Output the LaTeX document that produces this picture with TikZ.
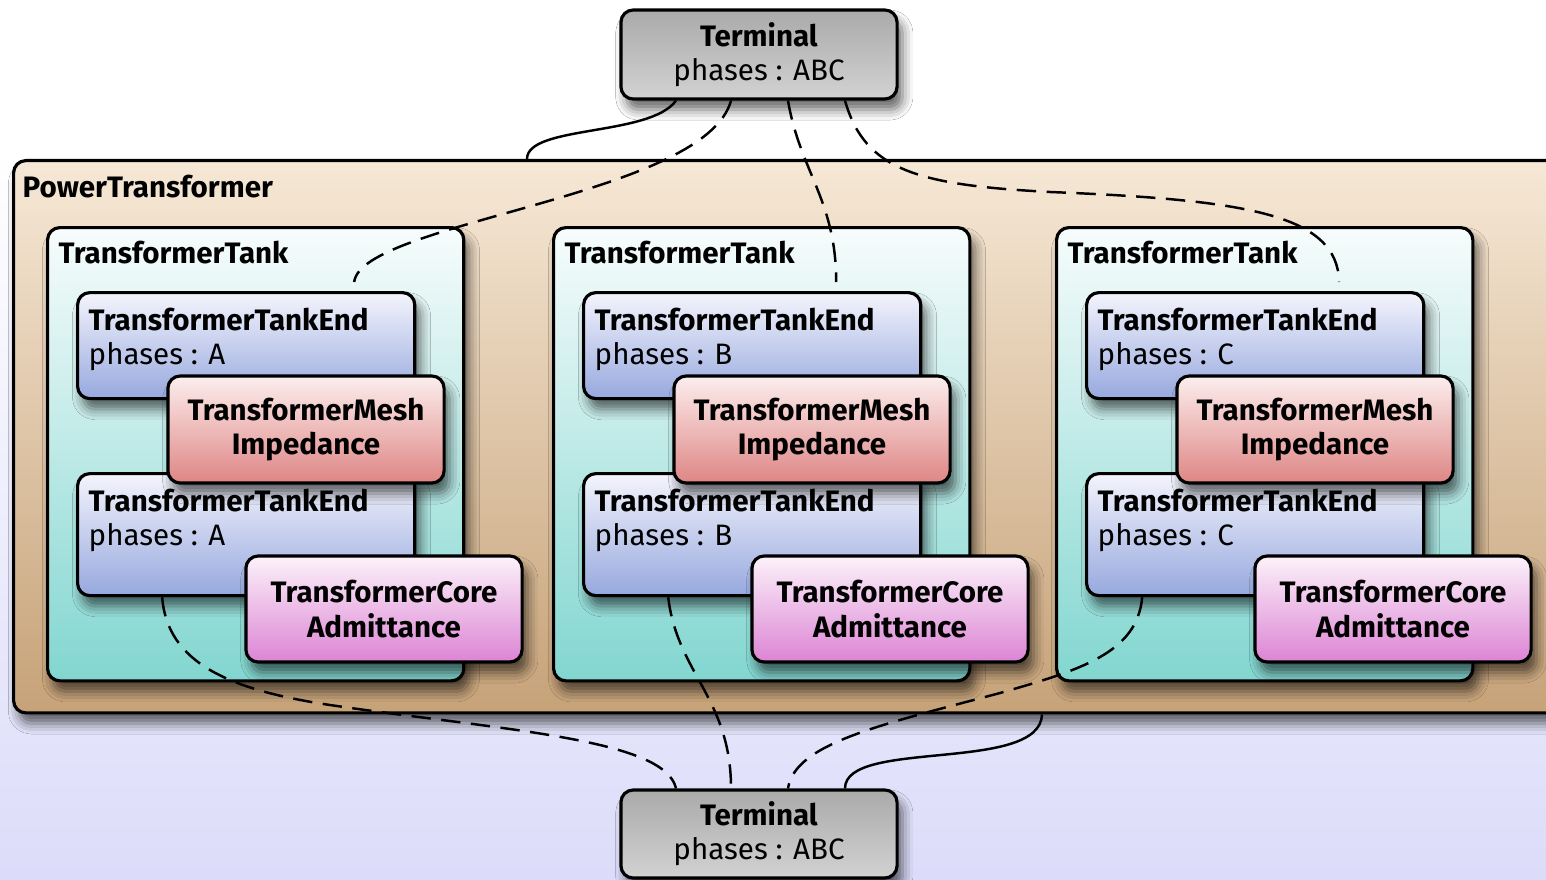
\documentclass[tikz,border=0pt]{standalone}
\usepackage{fontspec}
\setmainfont{Fira Sans}
\usetikzlibrary{calc,shadows.blur}

\definecolor{termtop}{RGB}{170,170,170}
\definecolor{termbot}{RGB}{210,210,210}
\definecolor{pttop}{RGB}{246,232,214}
\definecolor{ptbot}{RGB}{198,162,120}
\definecolor{tanktop}{RGB}{247,252,252}
\definecolor{tankbot}{RGB}{130,214,208}
\definecolor{endtop}{RGB}{244,244,252}
\definecolor{endbot}{RGB}{150,168,222}
\definecolor{meshtop}{RGB}{252,238,238}
\definecolor{meshbot}{RGB}{222,134,132}
\definecolor{coretop}{RGB}{252,242,250}
\definecolor{corebot}{RGB}{220,132,212}
\definecolor{lavbg}{RGB}{220,220,250}

\begin{document}
\begin{tikzpicture}[x=0.01cm,y=-0.01cm,
	font=\fontsize{8.4}{9.7}\selectfont,
	box/.style={draw, line width=0.9pt, rounded corners=3.5pt,
		blur shadow={shadow xshift=1.5pt, shadow yshift=-3pt, shadow blur radius=3pt, shadow opacity=60}},
	terminal/.style={box, top color=termtop, bottom color=termbot, minimum width=2.76cm, minimum height=0.89cm, align=center},
	tankend/.style={box, top color=endtop, bottom color=endbot, minimum width=3.37cm, anchor=north west},
	mesh/.style={box, top color=meshtop, bottom color=meshbot, minimum width=2.76cm, minimum height=1.07cm, align=center,
		font=\fontsize{8.4}{9.7}\selectfont\bfseries},
	core/.style={mesh, top color=coretop, bottom color=corebot, minimum height=1.06cm},
	title/.style={anchor=base west, inner sep=0pt, font=\fontsize{8.4}{9.7}\selectfont\bfseries},
	endtext/.style={anchor=north west, inner sep=0pt, align=left},
	link/.style={line width=0.7pt},
	ref/.style={link, dash pattern=on 5.5pt off 3pt}]
	
	\useasboundingbox (0,0) rectangle (1546,879);
	\fill[white] (0,0) rectangle (1546,879);%Hintergrund
	\fill[top color=white, bottom color=lavbg] (0,150) rectangle (1546,879);
	
	%PowerTransformer
	\node[box, top color=pttop, bottom color=ptbot, minimum width=15.6cm, minimum height=5.52cm, anchor=north west] (pt) at (12,159) {};
	\node[title] at ($(pt.north west)+(10,38)$) {PowerTransformer};
	
	\foreach \dx/\ph [count=\i] in {0/A,506/B,1009/C}{
		\node[box, top color=tanktop, bottom color=tankbot, minimum width=4.16cm, minimum height=4.53cm, anchor=north west] (tank\i) at (46+\dx,226) {};
		\node[title] at ($(tank\i.north west)+(12,37)$) {TransformerTank};
		
		\node[tankend, minimum height=1.06cm] (endA\i) at (76+\dx,291) {};
		\node[endtext] at ($(endA\i.north west)+(12,16)$) {\textbf{TransformerTankEnd}\\phases : \ph};
		\node[tankend, minimum height=1.22cm] (endB\i) at (76+\dx,472) {};
		\node[endtext] at ($(endB\i.north west)+(12,16)$) {\textbf{TransformerTankEnd}\\phases : \ph};
		
		\node[mesh] (mesh\i) at (306+\dx,429.5) {TransformerMesh\\Impedance};
		\node[core] (core\i) at (384+\dx,609) {TransformerCore\\Admittance};
	}
	
	%Terminals
	\node[terminal] (termTop) at (759,54.5) {\textbf{Terminal}\\phases : ABC};
	\node[terminal, minimum height=0.88cm] (termBot) at (759,834) {\textbf{Terminal}\\phases : ABC};
	
	%oben
	\draw[link] ($(termTop.south)+(-83,0)$) .. controls +(-26,36) and +(0,-34) .. ($(pt.north west)+(515,0)$);
	\draw[ref] ($(termTop.south)+(-28,0)$) .. controls +(-26,96) and +(7,-60) .. ($(endA1.north)+(108,-9)$);
	\draw[ref] ($(termTop.south)+(29,0)$) .. controls +(12,71) and +(0,-82) .. ($(endA2.north)+(84,-9)$);
	\draw[ref] ($(termTop.south)+(86,0)$) .. controls +(20,71) and +(-130,-7) .. (1050,192)
		.. controls +(200,8) and +(-2,-67) .. ($(endA3.north)+(84,-9)$);
	
	%unten
	\draw[ref] ($(endB1.south)+(-84,0)$) .. controls +(5,66) and +(-100,-15) .. (330,705)
		.. controls +(170,25) and +(-11,-50) .. ($(termBot.north)+(-83,0)$);
	\draw[ref] ($(endB2.south)+(-84,0)$) .. controls +(9,76) and +(0,-90) .. ($(termBot.north)+(-28,0)$);
	\draw[ref] ($(endB3.south)+(-113,0)$) .. controls +(-5,56) and +(80,-23) .. (1000,693)
		.. controls +(-120,32) and +(7,-45) .. ($(termBot.north)+(29,0)$);
	\draw[link] ($(pt.south west)+(1030,0)$) .. controls +(-2,59) and +(0,-50) .. ($(termBot.north)+(86,0)$);
\end{tikzpicture}
\end{document}
